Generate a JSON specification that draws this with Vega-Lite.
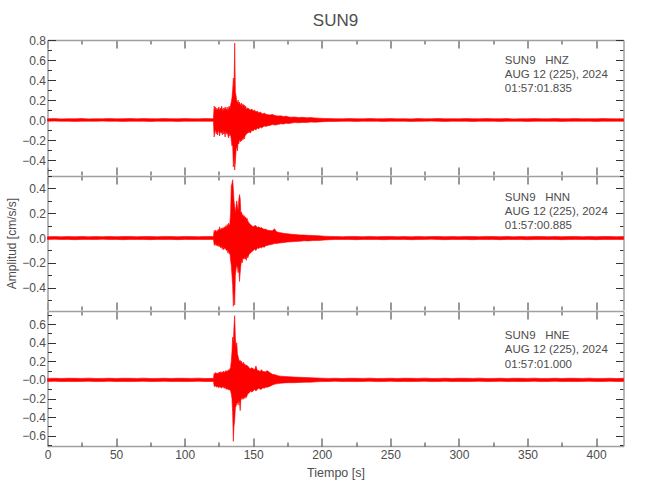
{
"$schema":"https://vega.github.io/schema/vega-lite/v6.json",
"background":"white",
"padding":{"left":5.5,"top":12,"right":10,"bottom":5},
"config":{
 "view":{"stroke":null},
 "axis":{"domain":false,"grid":false,"domainColor":"#a0a0a0","domainWidth":1.5,"labelFont":"Liberation Sans","labelFontSize":12,"labelColor":"#4d4d4d","tickColor":"#333333","tickWidth":1,"labelFlush":false,"labelOverlap":false,"titleFont":"Liberation Sans","titleFontSize":12.5,"titleColor":"#4d4d4d","titleFontWeight":"normal"},
 "concat":{"spacing":-2}
},
"datasets":{
"hnz":[{"t":0,"h":0.012,"l":-0.012},{"t":5,"h":0.014,"l":-0.011},{"t":10,"h":0.011,"l":-0.013},{"t":15,"h":0.013,"l":-0.012},{"t":20,"h":0.012,"l":-0.014},{"t":25,"h":0.015,"l":-0.012},{"t":30,"h":0.011,"l":-0.012},{"t":35,"h":0.013,"l":-0.013},{"t":40,"h":0.012,"l":-0.011},{"t":45,"h":0.014,"l":-0.013},{"t":50,"h":0.012,"l":-0.012},{"t":55,"h":0.013,"l":-0.014},{"t":60,"h":0.015,"l":-0.012},{"t":65,"h":0.012,"l":-0.013},{"t":70,"h":0.014,"l":-0.012},{"t":75,"h":0.013,"l":-0.015},{"t":80,"h":0.012,"l":-0.012},{"t":85,"h":0.014,"l":-0.013},{"t":90,"h":0.013,"l":-0.012},{"t":95,"h":0.012,"l":-0.014},{"t":100,"h":0.014,"l":-0.012},{"t":105,"h":0.013,"l":-0.013},{"t":110,"h":0.012,"l":-0.012},{"t":115,"h":0.014,"l":-0.013},{"t":120,"h":0.013,"l":-0.012},{"t":121,"h":0.014,"l":-0.013},
{"t":121.5,"h":0.14,"l":-0.17},{"t":122,"h":0.1,"l":-0.12},{"t":122.5,"h":0.13,"l":-0.1},{"t":123,"h":0.09,"l":-0.14},{"t":123.5,"h":0.12,"l":-0.11},{"t":124,"h":0.1,"l":-0.15},{"t":124.5,"h":0.11,"l":-0.1},{"t":125,"h":0.13,"l":-0.12},{"t":125.5,"h":0.09,"l":-0.16},{"t":126,"h":0.12,"l":-0.11},{"t":126.5,"h":0.1,"l":-0.13},{"t":127,"h":0.14,"l":-0.12},{"t":127.5,"h":0.11,"l":-0.15},{"t":128,"h":0.09,"l":-0.1},{"t":128.5,"h":0.12,"l":-0.14},{"t":129,"h":0.1,"l":-0.12},{"t":129.5,"h":0.13,"l":-0.17},{"t":130,"h":0.11,"l":-0.11},{"t":130.5,"h":0.1,"l":-0.14},{"t":131,"h":0.13,"l":-0.12},{"t":131.5,"h":0.09,"l":-0.15},{"t":132,"h":0.12,"l":-0.18},{"t":132.5,"h":0.14,"l":-0.13},{"t":133,"h":0.11,"l":-0.16},{"t":133.5,"h":0.15,"l":-0.14},{"t":134,"h":0.18,"l":-0.2},{"t":134.5,"h":0.22,"l":-0.26},{"t":135,"h":0.3,"l":-0.24},{"t":135.5,"h":0.42,"l":-0.47},{"t":136,"h":0.32,"l":-0.36},{"t":136.5,"h":0.77,"l":-0.5},{"t":137,"h":0.28,"l":-0.42},{"t":137.5,"h":0.24,"l":-0.3},{"t":138,"h":0.19,"l":-0.26},{"t":138.5,"h":0.17,"l":-0.31},{"t":139,"h":0.2,"l":-0.22},{"t":139.5,"h":0.15,"l":-0.24},{"t":140,"h":0.18,"l":-0.19},{"t":140.5,"h":0.16,"l":-0.22},{"t":141,"h":0.14,"l":-0.2},{"t":141.5,"h":0.17,"l":-0.21},{"t":142,"h":0.13,"l":-0.18},{"t":142.5,"h":0.16,"l":-0.2},{"t":143,"h":0.14,"l":-0.17},{"t":143.5,"h":0.15,"l":-0.19},{"t":144,"h":0.12,"l":-0.16},{"t":144.5,"h":0.14,"l":-0.15},{"t":145,"h":0.11,"l":-0.14},{"t":146,"h":0.12,"l":-0.13},{"t":147,"h":0.11,"l":-0.12},{"t":148,"h":0.1,"l":-0.13},{"t":149,"h":0.11,"l":-0.1},{"t":150,"h":0.09,"l":-0.11},{"t":151,"h":0.1,"l":-0.09},{"t":152,"h":0.08,"l":-0.1},{"t":153,"h":0.09,"l":-0.08},{"t":154,"h":0.07,"l":-0.09},{"t":155,"h":0.08,"l":-0.07},{"t":156,"h":0.07,"l":-0.08},{"t":157,"h":0.06,"l":-0.07},{"t":158,"h":0.07,"l":-0.06},{"t":159,"h":0.06,"l":-0.065},{"t":160,"h":0.055,"l":-0.06},{"t":162,"h":0.05,"l":-0.055},{"t":164,"h":0.055,"l":-0.045},{"t":166,"h":0.045,"l":-0.05},{"t":168,"h":0.04,"l":-0.045},{"t":170,"h":0.042,"l":-0.038},{"t":172,"h":0.035,"l":-0.04},{"t":174,"h":0.038,"l":-0.032},{"t":176,"h":0.03,"l":-0.035},{"t":178,"h":0.028,"l":-0.03},{"t":180,"h":0.03,"l":-0.026},{"t":183,"h":0.025,"l":-0.028},{"t":186,"h":0.027,"l":-0.024},{"t":189,"h":0.022,"l":-0.025},{"t":192,"h":0.024,"l":-0.02},{"t":195,"h":0.02,"l":-0.022},{"t":198,"h":0.018,"l":-0.02},{"t":201,"h":0.016,"l":-0.017},
{"t":205,"h":0.014,"l":-0.015},{"t":210,"h":0.013,"l":-0.014},{"t":215,"h":0.012,"l":-0.013},{"t":220,"h":0.014,"l":-0.012},{"t":225,"h":0.013,"l":-0.014},{"t":230,"h":0.012,"l":-0.012},{"t":235,"h":0.015,"l":-0.013},{"t":240,"h":0.012,"l":-0.012},{"t":245,"h":0.013,"l":-0.014},{"t":250,"h":0.014,"l":-0.012},{"t":255,"h":0.012,"l":-0.013},{"t":260,"h":0.013,"l":-0.012},{"t":265,"h":0.011,"l":-0.014},{"t":270,"h":0.014,"l":-0.013},{"t":275,"h":0.012,"l":-0.012},{"t":280,"h":0.013,"l":-0.011},{"t":285,"h":0.015,"l":-0.013},{"t":290,"h":0.012,"l":-0.014},{"t":295,"h":0.013,"l":-0.012},{"t":300,"h":0.012,"l":-0.013},{"t":305,"h":0.014,"l":-0.012},{"t":310,"h":0.013,"l":-0.015},{"t":315,"h":0.012,"l":-0.012},{"t":320,"h":0.014,"l":-0.013},{"t":325,"h":0.013,"l":-0.012},{"t":330,"h":0.012,"l":-0.014},{"t":335,"h":0.014,"l":-0.012},{"t":340,"h":0.011,"l":-0.013},{"t":345,"h":0.013,"l":-0.012},{"t":350,"h":0.012,"l":-0.014},{"t":355,"h":0.014,"l":-0.013},{"t":360,"h":0.013,"l":-0.012},{"t":365,"h":0.012,"l":-0.013},{"t":370,"h":0.015,"l":-0.012},{"t":375,"h":0.012,"l":-0.014},{"t":380,"h":0.013,"l":-0.013},{"t":385,"h":0.014,"l":-0.012},{"t":390,"h":0.012,"l":-0.013},{"t":395,"h":0.013,"l":-0.012},{"t":400,"h":0.012,"l":-0.014},{"t":405,"h":0.014,"l":-0.012},{"t":410,"h":0.013,"l":-0.013},{"t":415,"h":0.012,"l":-0.012},{"t":420,"h":0.013,"l":-0.013}],
"hnn":[{"t":0,"h":0.011,"l":-0.011},{"t":5,"h":0.012,"l":-0.01},{"t":10,"h":0.01,"l":-0.012},{"t":15,"h":0.012,"l":-0.011},{"t":20,"h":0.011,"l":-0.013},{"t":25,"h":0.013,"l":-0.011},{"t":30,"h":0.01,"l":-0.011},{"t":35,"h":0.012,"l":-0.012},{"t":40,"h":0.011,"l":-0.01},{"t":45,"h":0.013,"l":-0.012},{"t":50,"h":0.011,"l":-0.011},{"t":55,"h":0.012,"l":-0.013},{"t":60,"h":0.013,"l":-0.011},{"t":65,"h":0.011,"l":-0.012},{"t":70,"h":0.012,"l":-0.011},{"t":75,"h":0.012,"l":-0.013},{"t":80,"h":0.011,"l":-0.011},{"t":85,"h":0.013,"l":-0.012},{"t":90,"h":0.012,"l":-0.011},{"t":95,"h":0.011,"l":-0.013},{"t":100,"h":0.013,"l":-0.011},{"t":105,"h":0.012,"l":-0.012},{"t":110,"h":0.011,"l":-0.011},{"t":115,"h":0.013,"l":-0.012},{"t":120,"h":0.012,"l":-0.011},{"t":121,"h":0.012,"l":-0.012},
{"t":121.5,"h":0.06,"l":-0.05},{"t":122,"h":0.05,"l":-0.06},{"t":122.5,"h":0.065,"l":-0.045},{"t":123,"h":0.045,"l":-0.06},{"t":123.5,"h":0.06,"l":-0.055},{"t":124,"h":0.055,"l":-0.065},{"t":124.5,"h":0.07,"l":-0.05},{"t":125,"h":0.06,"l":-0.07},{"t":125.5,"h":0.09,"l":-0.06},{"t":126,"h":0.07,"l":-0.075},{"t":126.5,"h":0.065,"l":-0.08},{"t":127,"h":0.08,"l":-0.065},{"t":127.5,"h":0.07,"l":-0.09},{"t":128,"h":0.085,"l":-0.07},{"t":128.5,"h":0.075,"l":-0.095},{"t":129,"h":0.09,"l":-0.08},{"t":129.5,"h":0.08,"l":-0.085},{"t":130,"h":0.1,"l":-0.09},{"t":130.5,"h":0.085,"l":-0.1},{"t":131,"h":0.11,"l":-0.095},{"t":131.5,"h":0.09,"l":-0.12},{"t":132,"h":0.12,"l":-0.1},{"t":132.5,"h":0.1,"l":-0.13},{"t":133,"h":0.12,"l":-0.11},{"t":133.5,"h":0.2,"l":-0.18},{"t":134,"h":0.42,"l":-0.22},{"t":134.5,"h":0.44,"l":-0.3},{"t":135,"h":0.47,"l":-0.38},{"t":135.5,"h":0.4,"l":-0.55},{"t":136,"h":0.3,"l":-0.42},{"t":136.5,"h":0.25,"l":-0.54},{"t":137,"h":0.2,"l":-0.3},{"t":137.5,"h":0.26,"l":-0.25},{"t":138,"h":0.3,"l":-0.22},{"t":138.5,"h":0.25,"l":-0.24},{"t":139,"h":0.22,"l":-0.28},{"t":139.5,"h":0.31,"l":-0.24},{"t":140,"h":0.35,"l":-0.35},{"t":140.5,"h":0.32,"l":-0.28},{"t":141,"h":0.2,"l":-0.22},{"t":141.5,"h":0.21,"l":-0.18},{"t":142,"h":0.18,"l":-0.2},{"t":142.5,"h":0.19,"l":-0.16},{"t":143,"h":0.17,"l":-0.17},{"t":143.5,"h":0.18,"l":-0.15},{"t":144,"h":0.16,"l":-0.17},{"t":144.5,"h":0.17,"l":-0.16},{"t":145,"h":0.15,"l":-0.18},{"t":145.5,"h":0.16,"l":-0.14},{"t":146,"h":0.14,"l":-0.16},{"t":147,"h":0.12,"l":-0.13},{"t":148,"h":0.11,"l":-0.12},{"t":149,"h":0.1,"l":-0.11},{"t":150,"h":0.09,"l":-0.1},{"t":151,"h":0.1,"l":-0.09},{"t":152,"h":0.1,"l":-0.1},{"t":153,"h":0.085,"l":-0.08},{"t":154,"h":0.09,"l":-0.085},{"t":155,"h":0.08,"l":-0.075},{"t":156,"h":0.085,"l":-0.08},{"t":157,"h":0.075,"l":-0.07},{"t":158,"h":0.07,"l":-0.075},{"t":159,"h":0.072,"l":-0.065},{"t":160,"h":0.065,"l":-0.06},{"t":162,"h":0.06,"l":-0.055},{"t":164,"h":0.058,"l":-0.05},{"t":165.5,"h":0.075,"l":-0.045},{"t":167,"h":0.05,"l":-0.045},{"t":169,"h":0.045,"l":-0.04},{"t":171,"h":0.04,"l":-0.038},{"t":173,"h":0.036,"l":-0.035},{"t":175,"h":0.035,"l":-0.032},{"t":178,"h":0.03,"l":-0.03},{"t":181,"h":0.028,"l":-0.027},{"t":184,"h":0.025,"l":-0.026},{"t":187,"h":0.024,"l":-0.022},{"t":190,"h":0.022,"l":-0.023},{"t":194,"h":0.02,"l":-0.02},{"t":198,"h":0.018,"l":-0.019},{"t":202,"h":0.015,"l":-0.016},
{"t":206,"h":0.013,"l":-0.013},{"t":210,"h":0.012,"l":-0.012},{"t":215,"h":0.011,"l":-0.012},{"t":220,"h":0.013,"l":-0.011},{"t":225,"h":0.012,"l":-0.013},{"t":230,"h":0.011,"l":-0.011},{"t":235,"h":0.013,"l":-0.012},{"t":240,"h":0.011,"l":-0.011},{"t":245,"h":0.012,"l":-0.013},{"t":250,"h":0.013,"l":-0.011},{"t":255,"h":0.011,"l":-0.012},{"t":260,"h":0.012,"l":-0.011},{"t":265,"h":0.01,"l":-0.013},{"t":270,"h":0.013,"l":-0.012},{"t":275,"h":0.011,"l":-0.011},{"t":280,"h":0.012,"l":-0.01},{"t":285,"h":0.013,"l":-0.012},{"t":290,"h":0.011,"l":-0.013},{"t":295,"h":0.012,"l":-0.011},{"t":300,"h":0.011,"l":-0.012},{"t":305,"h":0.013,"l":-0.011},{"t":310,"h":0.012,"l":-0.013},{"t":315,"h":0.011,"l":-0.011},{"t":320,"h":0.013,"l":-0.012},{"t":325,"h":0.012,"l":-0.011},{"t":330,"h":0.011,"l":-0.013},{"t":335,"h":0.013,"l":-0.011},{"t":340,"h":0.01,"l":-0.012},{"t":345,"h":0.012,"l":-0.011},{"t":350,"h":0.011,"l":-0.013},{"t":355,"h":0.013,"l":-0.012},{"t":360,"h":0.012,"l":-0.011},{"t":365,"h":0.011,"l":-0.012},{"t":370,"h":0.013,"l":-0.011},{"t":375,"h":0.011,"l":-0.013},{"t":380,"h":0.012,"l":-0.012},{"t":385,"h":0.013,"l":-0.011},{"t":390,"h":0.011,"l":-0.012},{"t":395,"h":0.012,"l":-0.011},{"t":400,"h":0.011,"l":-0.013},{"t":405,"h":0.013,"l":-0.011},{"t":410,"h":0.012,"l":-0.012},{"t":415,"h":0.011,"l":-0.011},{"t":420,"h":0.012,"l":-0.012}],
"hne":[{"t":0,"h":0.016,"l":-0.017},{"t":5,"h":0.018,"l":-0.015},{"t":10,"h":0.015,"l":-0.018},{"t":15,"h":0.018,"l":-0.016},{"t":20,"h":0.017,"l":-0.018},{"t":25,"h":0.016,"l":-0.016},{"t":30,"h":0.019,"l":-0.015},{"t":35,"h":0.015,"l":-0.018},{"t":40,"h":0.016,"l":-0.017},{"t":45,"h":0.018,"l":-0.015},{"t":50,"h":0.015,"l":-0.018},{"t":55,"h":0.018,"l":-0.016},{"t":60,"h":0.017,"l":-0.018},{"t":65,"h":0.016,"l":-0.016},{"t":70,"h":0.019,"l":-0.015},{"t":75,"h":0.015,"l":-0.018},{"t":80,"h":0.016,"l":-0.017},{"t":85,"h":0.018,"l":-0.015},{"t":90,"h":0.015,"l":-0.018},{"t":95,"h":0.018,"l":-0.016},{"t":100,"h":0.017,"l":-0.018},{"t":105,"h":0.016,"l":-0.016},{"t":110,"h":0.019,"l":-0.015},{"t":115,"h":0.015,"l":-0.018},{"t":120,"h":0.017,"l":-0.017},{"t":121,"h":0.016,"l":-0.016},
{"t":121.5,"h":0.07,"l":-0.06},{"t":122,"h":0.06,"l":-0.075},{"t":122.5,"h":0.08,"l":-0.06},{"t":123,"h":0.065,"l":-0.07},{"t":123.5,"h":0.075,"l":-0.08},{"t":124,"h":0.06,"l":-0.065},{"t":124.5,"h":0.08,"l":-0.075},{"t":125,"h":0.07,"l":-0.085},{"t":125.5,"h":0.085,"l":-0.07},{"t":126,"h":0.075,"l":-0.08},{"t":126.5,"h":0.09,"l":-0.075},{"t":127,"h":0.07,"l":-0.09},{"t":127.5,"h":0.085,"l":-0.08},{"t":128,"h":0.08,"l":-0.07},{"t":128.5,"h":0.095,"l":-0.085},{"t":129,"h":0.075,"l":-0.09},{"t":129.5,"h":0.09,"l":-0.08},{"t":130,"h":0.1,"l":-0.095},{"t":130.5,"h":0.085,"l":-0.1},{"t":131,"h":0.1,"l":-0.09},{"t":131.5,"h":0.09,"l":-0.105},{"t":132,"h":0.11,"l":-0.1},{"t":132.5,"h":0.1,"l":-0.11},{"t":133,"h":0.12,"l":-0.1},{"t":133.5,"h":0.13,"l":-0.12},{"t":134,"h":0.2,"l":-0.15},{"t":134.5,"h":0.3,"l":-0.2},{"t":135,"h":0.46,"l":-0.35},{"t":135.5,"h":0.4,"l":-0.66},{"t":136,"h":0.58,"l":-0.5},{"t":136.5,"h":0.69,"l":-0.43},{"t":137,"h":0.45,"l":-0.3},{"t":137.5,"h":0.35,"l":-0.28},{"t":138,"h":0.4,"l":-0.25},{"t":138.5,"h":0.28,"l":-0.24},{"t":139,"h":0.25,"l":-0.27},{"t":139.5,"h":0.22,"l":-0.22},{"t":140,"h":0.2,"l":-0.25},{"t":140.5,"h":0.21,"l":-0.33},{"t":141,"h":0.19,"l":-0.22},{"t":141.5,"h":0.2,"l":-0.2},{"t":142,"h":0.18,"l":-0.19},{"t":142.5,"h":0.17,"l":-0.21},{"t":143,"h":0.19,"l":-0.2},{"t":143.5,"h":0.16,"l":-0.18},{"t":144,"h":0.17,"l":-0.2},{"t":144.5,"h":0.15,"l":-0.17},{"t":145,"h":0.16,"l":-0.19},{"t":146,"h":0.15,"l":-0.15},{"t":147,"h":0.13,"l":-0.14},{"t":148,"h":0.12,"l":-0.12},{"t":149,"h":0.13,"l":-0.13},{"t":150,"h":0.12,"l":-0.12},{"t":151,"h":0.11,"l":-0.1},{"t":152,"h":0.15,"l":-0.12},{"t":153,"h":0.1,"l":-0.1},{"t":154,"h":0.1,"l":-0.09},{"t":155,"h":0.09,"l":-0.1},{"t":156,"h":0.11,"l":-0.1},{"t":157,"h":0.09,"l":-0.085},{"t":158,"h":0.09,"l":-0.09},{"t":159,"h":0.085,"l":-0.08},{"t":160,"h":0.1,"l":-0.08},{"t":162,"h":0.08,"l":-0.07},{"t":164,"h":0.06,"l":-0.055},{"t":166,"h":0.055,"l":-0.045},{"t":168,"h":0.045,"l":-0.04},{"t":170,"h":0.04,"l":-0.036},{"t":173,"h":0.037,"l":-0.032},{"t":176,"h":0.034,"l":-0.03},{"t":180,"h":0.03,"l":-0.03},{"t":184,"h":0.028,"l":-0.027},{"t":188,"h":0.026,"l":-0.025},{"t":192,"h":0.024,"l":-0.024},{"t":196,"h":0.021,"l":-0.021},{"t":200,"h":0.019,"l":-0.018},
{"t":205,"h":0.016,"l":-0.017},{"t":210,"h":0.018,"l":-0.015},{"t":215,"h":0.015,"l":-0.018},{"t":220,"h":0.018,"l":-0.016},{"t":225,"h":0.017,"l":-0.018},{"t":230,"h":0.016,"l":-0.016},{"t":235,"h":0.019,"l":-0.015},{"t":240,"h":0.015,"l":-0.018},{"t":245,"h":0.016,"l":-0.017},{"t":250,"h":0.018,"l":-0.015},{"t":255,"h":0.015,"l":-0.018},{"t":260,"h":0.018,"l":-0.016},{"t":265,"h":0.017,"l":-0.018},{"t":270,"h":0.016,"l":-0.016},{"t":275,"h":0.019,"l":-0.015},{"t":280,"h":0.015,"l":-0.018},{"t":285,"h":0.016,"l":-0.017},{"t":290,"h":0.018,"l":-0.015},{"t":295,"h":0.015,"l":-0.018},{"t":300,"h":0.018,"l":-0.016},{"t":305,"h":0.017,"l":-0.018},{"t":310,"h":0.016,"l":-0.016},{"t":315,"h":0.019,"l":-0.015},{"t":320,"h":0.015,"l":-0.018},{"t":325,"h":0.016,"l":-0.017},{"t":330,"h":0.018,"l":-0.015},{"t":335,"h":0.015,"l":-0.018},{"t":340,"h":0.018,"l":-0.016},{"t":345,"h":0.017,"l":-0.018},{"t":350,"h":0.016,"l":-0.016},{"t":355,"h":0.019,"l":-0.015},{"t":360,"h":0.015,"l":-0.018},{"t":365,"h":0.016,"l":-0.017},{"t":370,"h":0.018,"l":-0.015},{"t":375,"h":0.015,"l":-0.018},{"t":380,"h":0.018,"l":-0.016},{"t":385,"h":0.017,"l":-0.018},{"t":390,"h":0.016,"l":-0.016},{"t":395,"h":0.019,"l":-0.015},{"t":400,"h":0.015,"l":-0.018},{"t":405,"h":0.016,"l":-0.017},{"t":410,"h":0.018,"l":-0.015},{"t":415,"h":0.015,"l":-0.018},{"t":420,"h":0.017,"l":-0.016}],
"a1":[{"t":333.5,"a":0.563,"s":"SUN9\u00a0\u00a0\u00a0HNZ\nAUG 12 (225), 2024\n01:57:01.835"}],
"a2":[{"t":333.5,"a":0.298,"s":"SUN9\u00a0\u00a0\u00a0HNN\nAUG 12 (225), 2024\n01:57:00.885"}],
"a3":[{"t":333.5,"a":0.437,"s":"SUN9\u00a0\u00a0\u00a0HNE\nAUG 12 (225), 2024\n01:57:01.000"}]
},
"vconcat":[
{"width":576,"height":135,
 "title":{"text":"SUN9","fontSize":17,"font":"Liberation Sans","color":"#4d4d4d","fontWeight":"normal","anchor":"middle","frame":"group","offset":4},
 "layer":[
  {"data":{"name":"hnz"},"mark":{"type":"area","color":"#ff0000","stroke":"#ff0000","strokeWidth":0.6},
   "encoding":{"x":{"field":"t","type":"quantitative","scale":{"domain":[0,420],"nice":false,"zero":false},"axis":{"orient":"bottom","ticks":false,"labels":false,"domain":false,"title":null,"values":[0,50,100,150,200,250,300,350,400]}},
    "y":{"field":"h","type":"quantitative","scale":{"domain":[-0.55,0.8],"nice":false,"zero":false},"axis":{"orient":"left","ticks":false,"domain":true,"values":[-0.4,-0.2,0,0.2,0.4,0.6,0.8],"format":".1f","labelPadding":2,"title":null}},
    "y2":{"field":"l"}}},
  {"data":{"name":"a1"},"mark":{"type":"text","align":"left","baseline":"alphabetic","lineBreak":"\n","lineHeight":14.2,"font":"Liberation Sans","fontSize":11.5,"color":"#4d4d4d"},
   "encoding":{"x":{"field":"t","type":"quantitative","scale":{"domain":[0,420],"nice":false,"zero":false},"axis":{"orient":"bottom","labels":false,"tickSize":8,"offset":-8,"title":null,"values":[0,50,100,150,200,250,300,350,400]}},
    "y":{"field":"a","type":"quantitative","scale":{"domain":[-0.55,0.8],"nice":false,"zero":false},"axis":{"orient":"left","labels":false,"tickSize":8,"offset":-8,"title":null,"values":[-0.4,-0.2,0,0.2,0.4,0.6,0.8]}},
    "text":{"field":"s"}}},
  {"data":{"name":"a1"},"mark":{"type":"point","opacity":0},
   "encoding":{"x":{"field":"t","type":"quantitative","scale":{"domain":[0,420],"nice":false,"zero":false},"axis":{"orient":"bottom","labels":false,"tickSize":4,"offset":-4,"title":null,"values":[25,75,125,175,225,275,325,375]}},
    "y":{"field":"a","type":"quantitative","scale":{"domain":[-0.55,0.8],"nice":false,"zero":false},"axis":{"orient":"left","labels":false,"tickSize":4,"offset":-4,"title":null,"values":[-0.5,-0.3,-0.1,0.1,0.3,0.5,0.7]}}}},
  {"data":{"name":"a1"},"mark":{"type":"point","opacity":0},
   "encoding":{"x":{"field":"t","type":"quantitative","scale":{"domain":[0,420],"nice":false,"zero":false},"axis":{"orient":"top","labels":false,"tickSize":8,"offset":-8,"title":null,"values":[0,50,100,150,200,250,300,350,400]}},
    "y":{"field":"a","type":"quantitative","scale":{"domain":[-0.55,0.8],"nice":false,"zero":false},"axis":{"orient":"right","labels":false,"tickSize":8,"offset":-8,"title":null,"values":[-0.4,-0.2,0,0.2,0.4,0.6,0.8]}}}},
  {"data":{"name":"a1"},"mark":{"type":"point","opacity":0},
   "encoding":{"x":{"field":"t","type":"quantitative","scale":{"domain":[0,420],"nice":false,"zero":false},"axis":{"orient":"top","labels":false,"tickSize":4,"offset":-4,"title":null,"values":[25,75,125,175,225,275,325,375]}},
    "y":{"field":"a","type":"quantitative","scale":{"domain":[-0.55,0.8],"nice":false,"zero":false},"axis":{"orient":"right","labels":false,"tickSize":4,"offset":-4,"title":null,"values":[-0.5,-0.3,-0.1,0.1,0.3,0.5,0.7]}}}},
  {"data":{"name":"a1"},"mark":{"type":"point","opacity":0},
   "encoding":{"x":{"field":"t","type":"quantitative","scale":{"domain":[0,420],"nice":false,"zero":false},"axis":{"orient":"top","labels":false,"ticks":false,"domain":true,"title":null}},
    "y":{"field":"a","type":"quantitative","scale":{"domain":[-0.55,0.8],"nice":false,"zero":false},"axis":{"orient":"right","labels":false,"ticks":false,"domain":true,"title":null}}}}
 ],
 "resolve":{"axis":{"x":"independent","y":"independent"}}
},
{"width":576,"height":134,
 "layer":[
  {"data":{"name":"hnn"},"mark":{"type":"area","color":"#ff0000","stroke":"#ff0000","strokeWidth":0.6},
   "encoding":{"x":{"field":"t","type":"quantitative","scale":{"domain":[0,420],"nice":false,"zero":false},"axis":{"orient":"bottom","ticks":false,"labels":false,"domain":false,"title":null,"values":[0,50,100,150,200,250,300,350,400]}},
    "y":{"field":"h","type":"quantitative","scale":{"domain":[-0.58,0.5],"nice":false,"zero":false},"axis":{"orient":"left","ticks":false,"domain":true,"values":[-0.4,-0.2,0,0.2,0.4],"format":".1f","labelPadding":2,"title":"Amplitud [cm/s/s]","titleFontSize":12,"titlePadding":3}},
    "y2":{"field":"l"}}},
  {"data":{"name":"a2"},"mark":{"type":"text","align":"left","baseline":"alphabetic","lineBreak":"\n","lineHeight":14.2,"font":"Liberation Sans","fontSize":11.5,"color":"#4d4d4d"},
   "encoding":{"x":{"field":"t","type":"quantitative","scale":{"domain":[0,420],"nice":false,"zero":false},"axis":{"orient":"bottom","labels":false,"tickSize":8,"offset":-8,"title":null,"values":[0,50,100,150,200,250,300,350,400]}},
    "y":{"field":"a","type":"quantitative","scale":{"domain":[-0.58,0.5],"nice":false,"zero":false},"axis":{"orient":"left","labels":false,"tickSize":8,"offset":-8,"title":null,"values":[-0.4,-0.2,0,0.2,0.4]}},
    "text":{"field":"s"}}},
  {"data":{"name":"a2"},"mark":{"type":"point","opacity":0},
   "encoding":{"x":{"field":"t","type":"quantitative","scale":{"domain":[0,420],"nice":false,"zero":false},"axis":{"orient":"bottom","labels":false,"tickSize":4,"offset":-4,"title":null,"values":[25,75,125,175,225,275,325,375]}},
    "y":{"field":"a","type":"quantitative","scale":{"domain":[-0.58,0.5],"nice":false,"zero":false},"axis":{"orient":"left","labels":false,"tickSize":4,"offset":-4,"title":null,"values":[-0.5,-0.3,-0.1,0.1,0.3,0.5]}}}},
  {"data":{"name":"a2"},"mark":{"type":"point","opacity":0},
   "encoding":{"x":{"field":"t","type":"quantitative","scale":{"domain":[0,420],"nice":false,"zero":false},"axis":{"orient":"top","labels":false,"tickSize":8,"offset":-8,"title":null,"values":[0,50,100,150,200,250,300,350,400]}},
    "y":{"field":"a","type":"quantitative","scale":{"domain":[-0.58,0.5],"nice":false,"zero":false},"axis":{"orient":"right","labels":false,"tickSize":8,"offset":-8,"title":null,"values":[-0.4,-0.2,0,0.2,0.4]}}}},
  {"data":{"name":"a2"},"mark":{"type":"point","opacity":0},
   "encoding":{"x":{"field":"t","type":"quantitative","scale":{"domain":[0,420],"nice":false,"zero":false},"axis":{"orient":"top","labels":false,"tickSize":4,"offset":-4,"title":null,"values":[25,75,125,175,225,275,325,375]}},
    "y":{"field":"a","type":"quantitative","scale":{"domain":[-0.58,0.5],"nice":false,"zero":false},"axis":{"orient":"right","labels":false,"tickSize":4,"offset":-4,"title":null,"values":[-0.5,-0.3,-0.1,0.1,0.3,0.5]}}}},
  {"data":{"name":"a2"},"mark":{"type":"point","opacity":0},
   "encoding":{"x":{"field":"t","type":"quantitative","scale":{"domain":[0,420],"nice":false,"zero":false},"axis":{"orient":"top","labels":false,"ticks":false,"domain":true,"title":null}},
    "y":{"field":"a","type":"quantitative","scale":{"domain":[-0.58,0.5],"nice":false,"zero":false},"axis":{"orient":"right","labels":false,"ticks":false,"domain":true,"title":null}}}}
 ],
 "resolve":{"axis":{"x":"independent","y":"independent"}}
},
{"width":576,"height":135,
 "layer":[
  {"data":{"name":"hne"},"mark":{"type":"area","color":"#ff0000","stroke":"#ff0000","strokeWidth":0.6},
   "encoding":{"x":{"field":"t","type":"quantitative","scale":{"domain":[0,420],"nice":false,"zero":false},"axis":{"orient":"bottom","ticks":false,"labels":true,"domain":true,"labelPadding":3,"title":"Tiempo [s]","titlePadding":6,"values":[0,50,100,150,200,250,300,350,400]}},
    "y":{"field":"h","type":"quantitative","scale":{"domain":[-0.71,0.74],"nice":false,"zero":false},"axis":{"orient":"left","ticks":false,"domain":true,"values":[-0.6,-0.4,-0.2,0,0.2,0.4,0.6],"labelExpr":"datum.value == 0 ? '\u22120.0' : format(datum.value, '.1f')","labelPadding":2,"title":null}},
    "y2":{"field":"l"}}},
  {"data":{"name":"a3"},"mark":{"type":"text","align":"left","baseline":"alphabetic","lineBreak":"\n","lineHeight":14.2,"font":"Liberation Sans","fontSize":11.5,"color":"#4d4d4d"},
   "encoding":{"x":{"field":"t","type":"quantitative","scale":{"domain":[0,420],"nice":false,"zero":false},"axis":{"orient":"bottom","labels":false,"tickSize":8,"offset":-8,"title":null,"values":[0,50,100,150,200,250,300,350,400]}},
    "y":{"field":"a","type":"quantitative","scale":{"domain":[-0.71,0.74],"nice":false,"zero":false},"axis":{"orient":"left","labels":false,"tickSize":8,"offset":-8,"title":null,"values":[-0.6,-0.4,-0.2,0,0.2,0.4,0.6]}},
    "text":{"field":"s"}}},
  {"data":{"name":"a3"},"mark":{"type":"point","opacity":0},
   "encoding":{"x":{"field":"t","type":"quantitative","scale":{"domain":[0,420],"nice":false,"zero":false},"axis":{"orient":"bottom","labels":false,"tickSize":4,"offset":-4,"title":null,"values":[25,75,125,175,225,275,325,375]}},
    "y":{"field":"a","type":"quantitative","scale":{"domain":[-0.71,0.74],"nice":false,"zero":false},"axis":{"orient":"left","labels":false,"tickSize":4,"offset":-4,"title":null,"values":[-0.7,-0.5,-0.3,-0.1,0.1,0.3,0.5,0.7]}}}},
  {"data":{"name":"a3"},"mark":{"type":"point","opacity":0},
   "encoding":{"x":{"field":"t","type":"quantitative","scale":{"domain":[0,420],"nice":false,"zero":false},"axis":{"orient":"top","labels":false,"tickSize":8,"offset":-8,"title":null,"values":[0,50,100,150,200,250,300,350,400]}},
    "y":{"field":"a","type":"quantitative","scale":{"domain":[-0.71,0.74],"nice":false,"zero":false},"axis":{"orient":"right","labels":false,"tickSize":8,"offset":-8,"title":null,"values":[-0.6,-0.4,-0.2,0,0.2,0.4,0.6]}}}},
  {"data":{"name":"a3"},"mark":{"type":"point","opacity":0},
   "encoding":{"x":{"field":"t","type":"quantitative","scale":{"domain":[0,420],"nice":false,"zero":false},"axis":{"orient":"top","labels":false,"tickSize":4,"offset":-4,"title":null,"values":[25,75,125,175,225,275,325,375]}},
    "y":{"field":"a","type":"quantitative","scale":{"domain":[-0.71,0.74],"nice":false,"zero":false},"axis":{"orient":"right","labels":false,"tickSize":4,"offset":-4,"title":null,"values":[-0.7,-0.5,-0.3,-0.1,0.1,0.3,0.5,0.7]}}}},
  {"data":{"name":"a3"},"mark":{"type":"point","opacity":0},
   "encoding":{"x":{"field":"t","type":"quantitative","scale":{"domain":[0,420],"nice":false,"zero":false},"axis":{"orient":"top","labels":false,"ticks":false,"domain":true,"title":null}},
    "y":{"field":"a","type":"quantitative","scale":{"domain":[-0.71,0.74],"nice":false,"zero":false},"axis":{"orient":"right","labels":false,"ticks":false,"domain":true,"title":null}}}}
 ],
 "resolve":{"axis":{"x":"independent","y":"independent"}}
}
]
}
